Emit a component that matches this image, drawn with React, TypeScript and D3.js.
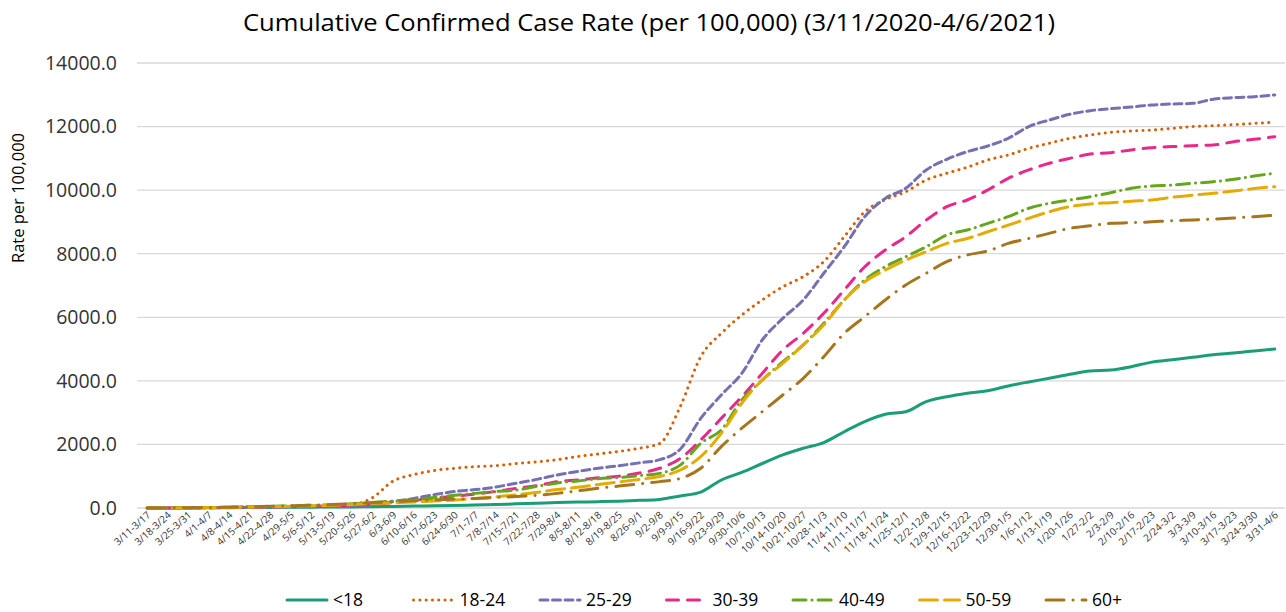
import React from 'react';
import * as d3 from 'd3';

const weeks = [
  '3/11-3/17', '3/18-3/24', '3/25-3/31', '4/1-4/7', '4/8-4/14', '4/15-4/21', '4/22-4/28', '4/29-5/5',
  '5/6-5/12', '5/13-5/19', '5/20-5/26', '5/27-6/2', '6/3-6/9', '6/10-6/16', '6/17-6/23', '6/24-6/30',
  '7/1-7/7', '7/8-7/14', '7/15-7/21', '7/22-7/28', '7/29-8/4', '8/5-8/11', '8/12-8/18', '8/19-8/25',
  '8/26-9/1', '9/2-9/8', '9/9-9/15', '9/16-9/22', '9/23-9/29', '9/30-10/6', '10/7-10/13', '10/14-10/20',
  '10/21-10/27', '10/28-11/3', '11/4-11/10', '11/11-11/17', '11/18-11/24', '11/25-12/1', '12/2-12/8',
  '12/9-12/15', '12/16-12/22', '12/23-12/29', '12/30-1/5', '1/6-1/12', '1/13-1/19', '1/20-1/26',
  '1/27-2/2', '2/3-2/9', '2/10-2/16', '2/17-2/23', '2/24-3/2', '3/3-3/9', '3/10-3/16', '3/17-3/23',
  '3/24-3/30', '3/31-4/6',
];

const under18 = [
  0, 1, 3, 6, 10, 14, 18, 22, 26, 30, 35, 42, 50, 60, 70, 80, 95, 110, 130, 150, 170, 185, 200, 215,
  240, 270, 380, 500, 880, 1120, 1400, 1670, 1880, 2060, 2400, 2720, 2950, 3030, 3345, 3500, 3610, 3690,
  3840, 3965, 4080, 4205, 4310, 4340, 4445, 4590, 4665, 4740, 4825, 4875, 4940, 5000,
];
const age18to24 = [
  0, 2, 5, 10, 15, 22, 30, 40, 50, 60, 100, 330, 850, 1050, 1180, 1250, 1300, 1330, 1400, 1450, 1520,
  1620, 1700, 1780, 1880, 2030, 3190, 4760, 5495, 6070, 6545, 6960, 7280, 7750, 8535, 9320, 9700, 9950,
  10320, 10530, 10720, 10950, 11105, 11315, 11475, 11630, 11735, 11820, 11860, 11890, 11945, 12000,
  12030, 12060, 12100, 12135,
];
const age25to29 = [
  0, 2, 5, 10, 16, 24, 33, 45, 55, 65, 80, 110, 200, 300, 420, 520, 580, 660, 780, 900, 1040, 1150,
  1250, 1330, 1420, 1520, 1850, 2820, 3555, 4235, 5285, 5965, 6545, 7385, 8220, 9165, 9740, 10060,
  10635, 10970, 11210, 11390, 11630, 12000, 12205, 12385, 12500, 12565, 12615, 12680, 12710, 12730,
  12860, 12910, 12940, 12995,
];
const age30to39 = [
  0, 2, 5, 10, 16, 24, 33, 45, 55, 68, 85, 120, 170, 240, 310, 375, 440, 520, 620, 700, 830, 880, 950,
  1000, 1100, 1250, 1560, 2140, 2820, 3500, 4235, 4970, 5495, 6125, 6860, 7590, 8115, 8535, 9060, 9480,
  9690, 10005, 10370, 10635, 10845, 11000, 11135, 11180, 11265, 11335, 11370, 11400, 11420, 11525,
  11600, 11680,
];
const age40to49 = [
  0, 3, 8, 15, 25, 40, 55, 70, 85, 100, 130, 170, 220, 270, 330, 400, 460, 520, 565, 680, 790, 850, 920,
  960, 1020, 1090, 1350, 2035, 2455, 3400, 4025, 4600, 5130, 5810, 6545, 7175, 7590, 7905, 8220, 8590,
  8745, 8955, 9165, 9430, 9585, 9690, 9795, 9920, 10060, 10130, 10160, 10215, 10265, 10340, 10445,
  10530,
];
const age50to59 = [
  0, 2, 6, 12, 20, 30, 42, 55, 70, 85, 110, 140, 160, 190, 220, 250, 300, 350, 410, 490, 580, 650, 740,
  820, 900, 990, 1195, 1615, 2350, 3295, 4025, 4550, 5130, 5755, 6545, 7120, 7485, 7800, 8065, 8325,
  8480, 8690, 8900, 9115, 9320, 9480, 9565, 9605, 9650, 9690, 9775, 9845, 9900, 9975, 10050, 10110,
];
const age60plus = [
  0, 3, 8, 15, 25, 38, 55, 70, 90, 110, 140, 170, 200, 230, 255, 275, 300, 330, 360, 400, 460, 540, 620,
  690, 760, 830, 930, 1250, 1930, 2510, 3030, 3555, 4080, 4760, 5495, 6020, 6545, 7015, 7385, 7750,
  7960, 8085, 8325, 8480, 8640, 8800, 8880, 8955, 8975, 9005, 9040, 9060, 9090, 9125, 9165, 9210,
];

const yTicks = [0, 2000, 4000, 6000, 8000, 10000, 12000, 14000];

const series = [
  { name: '<18', values: under18, color: '#1b9e77', dash: null },
  { name: '18-24', values: age18to24, color: '#d95f02', dash: '0.1 6.2' },
  { name: '25-29', values: age25to29, color: '#7570b3', dash: '8 4.5' },
  { name: '30-39', values: age30to39, color: '#e7298a', dash: '12 9' },
  { name: '40-49', values: age40to49, color: '#66a61e', dash: '13 6 0.1 6' },
  { name: '50-59', values: age50to59, color: '#e6ab02', dash: '18 7' },
  { name: '60+', values: age60plus, color: '#a6761d', dash: '18 9 0.1 9' },
];

const font = '"Open Sans", "Noto Sans", sans-serif';

export default function App() {
  const width = 1286;
  const height = 612;
  const left = 137;
  const right = 1285;
  const top = 63;
  const bottom = 508;

  const x = d3.scalePoint<string>().domain(weeks).range([left, right]).padding(0.5);
  const y = d3.scaleLinear().domain([0, 14000]).range([bottom, top]);

  const line = d3
    .line<number>()
    .x((_, i) => x(weeks[i]) as number)
    .y((d) => y(d))
    .curve(d3.curveMonotoneX);

  return (
    <svg
      width={width}
      height={height}
      style={{ position: 'absolute', left: 0, top: 0, background: 'white', fontFamily: font }}
    >
      <text
        x={649}
        y={31}
        textAnchor="middle"
        fontSize={24}
        fill="#000"
        textLength={812}
        lengthAdjust="spacingAndGlyphs"
      >
        Cumulative Confirmed Case Rate (per 100,000) (3/11/2020-4/6/2021)
      </text>

      {/* gridlines + y ticks */}
      {yTicks.map((t) => (
        <g key={t}>
          <line x1={left} x2={right} y1={y(t)} y2={y(t)} stroke="#d9d9d9" strokeWidth={1.3} />
          <text x={117} y={y(t)} dy="0.35em" textAnchor="end" fontSize={19.5} fill="#333">
            {d3.format('.1f')(t)}
          </text>
        </g>
      ))}

      <text
        transform={`translate(24,198) rotate(-90)`}
        textAnchor="middle"
        fontSize={16.5}
        fill="#000"
      >
        Rate per 100,000
      </text>

      {/* x labels */}
      {weeks.map((w) => (
        <text
          key={w}
          transform={`translate(${(x(w) as number) + 4},516) rotate(-42)`}
          textAnchor="end"
          fontSize={10}
          fill="#333"
        >
          {w}
        </text>
      ))}

      {series.map((s) => (
        <path
          key={s.name}
          d={line(s.values) as string}
          fill="none"
          stroke={s.color}
          strokeWidth={3}
          strokeDasharray={s.dash ?? undefined}
          strokeLinecap="round"
        />
      ))}

      {/* legend */}
      {series.map((s, i) => {
        const lx = 287 + i * 126.5;
        return (
          <g key={s.name}>
            <line
              x1={lx}
              x2={lx + 40}
              y1={600}
              y2={600}
              stroke={s.color}
              strokeWidth={3}
              strokeDasharray={s.dash ?? undefined}
              strokeLinecap="round"
            />
            <text x={lx + 46} y={600} dy="0.35em" fontSize={17.5} fill="#000">
              {s.name}
            </text>
          </g>
        );
      })}
    </svg>
  );
}
